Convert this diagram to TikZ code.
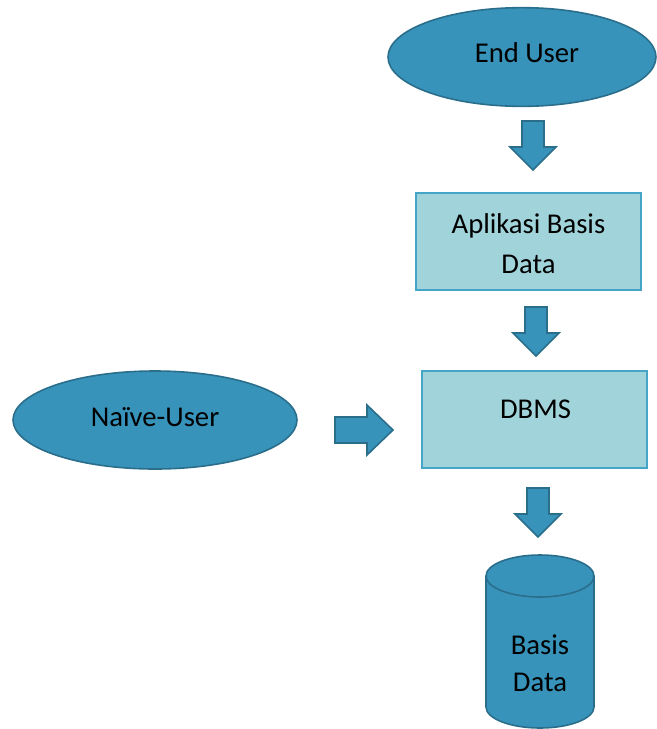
\documentclass[tikz,border=0pt]{standalone}
\usepackage{fontspec}
\setmainfont{Carlito}
\usetikzlibrary{shapes.geometric,calc}
\definecolor{darkfill}{HTML}{3793BA}
\definecolor{darkline}{HTML}{2A6E8C}
\definecolor{lightfill}{HTML}{A0D4DA}
\definecolor{lightline}{HTML}{44A5C6}
\tikzset{
  blk/.style={fill=darkfill,draw=darkline,line width=1.2pt,line join=miter},
  darkell/.style={ellipse,fill=darkfill,draw=darkline,line width=1.2pt,inner sep=0pt},
  lightbox/.style={rectangle,fill=lightfill,draw=lightline,line width=1.8pt,inner sep=0pt,align=center},
  txt/.style={font=\fontsize{21.5}{29.5}\selectfont,text=black,align=center,inner sep=0pt},
  pics/downarr/.style={code={
    \draw[blk] (-11,0) -- (11,0) -- (11,26) -- (23,26) -- (0,49) -- (-23,26) -- (-11,26) -- cycle;}},
  pics/rightarr/.style={code={
    \draw[blk] (0,-13) -- (32,-13) -- (32,-25) -- (58,0) -- (32,25) -- (32,13) -- (0,13) -- cycle;}}
}
\begin{document}
\begin{tikzpicture}[x=0.75pt,y=-0.75pt]
\useasboundingbox (0,0) rectangle (657,729);
% End User
\node[darkell,minimum width=201pt,minimum height=74pt] (eu) at (522,57) {};
\node[txt] (eut) at ($(eu.center)+(5,-4)$) {End User};
% Aplikasi Basis Data
\node[lightbox,minimum width=168.75pt,minimum height=72.75pt] (app) at (528.5,241.5) {};
\node[txt] (appt) at ($(app.center)+(0,2)$) {Aplikasi Basis\\Data};
% DBMS
\node[lightbox,minimum width=168.75pt,minimum height=72.75pt] (dbms) at (534.5,419.5) {};
\node[txt] (dbmst) at ($(dbms.center)+(1,-10)$) {DBMS};
% Naive user
\node[darkell,minimum width=213pt,minimum height=73.5pt] (nu) at (155,420) {};
\node[txt] (nut) at ($(nu.center)+(0,-3)$) {Naïve-User};
% arrows
\coordinate (a1) at (533,121);
\coordinate (a2) at (536,307);
\coordinate (a3) at (538,488);
\coordinate (a4) at (335,430);
\pic at (a1) {downarr};
\pic at (a2) {downarr};
\pic at (a3) {downarr};
\pic at (a4) {rightarr};
% Cylinder
\coordinate (cyl) at (540,576);
\draw[blk] (486,576) -- (486,707) arc[start angle=180,end angle=0,x radius=54,y radius=21] -- (594,576) arc[start angle=0,end angle=-180,x radius=54,y radius=21] -- cycle;
\draw[blk,fill=none] (486,576) arc[start angle=180,end angle=0,x radius=54,y radius=21];
\node[txt,font=\fontsize{21.5}{27.75}\selectfont] (db) at (540,663.5) {Basis\\Data};
\end{tikzpicture}
\end{document}
